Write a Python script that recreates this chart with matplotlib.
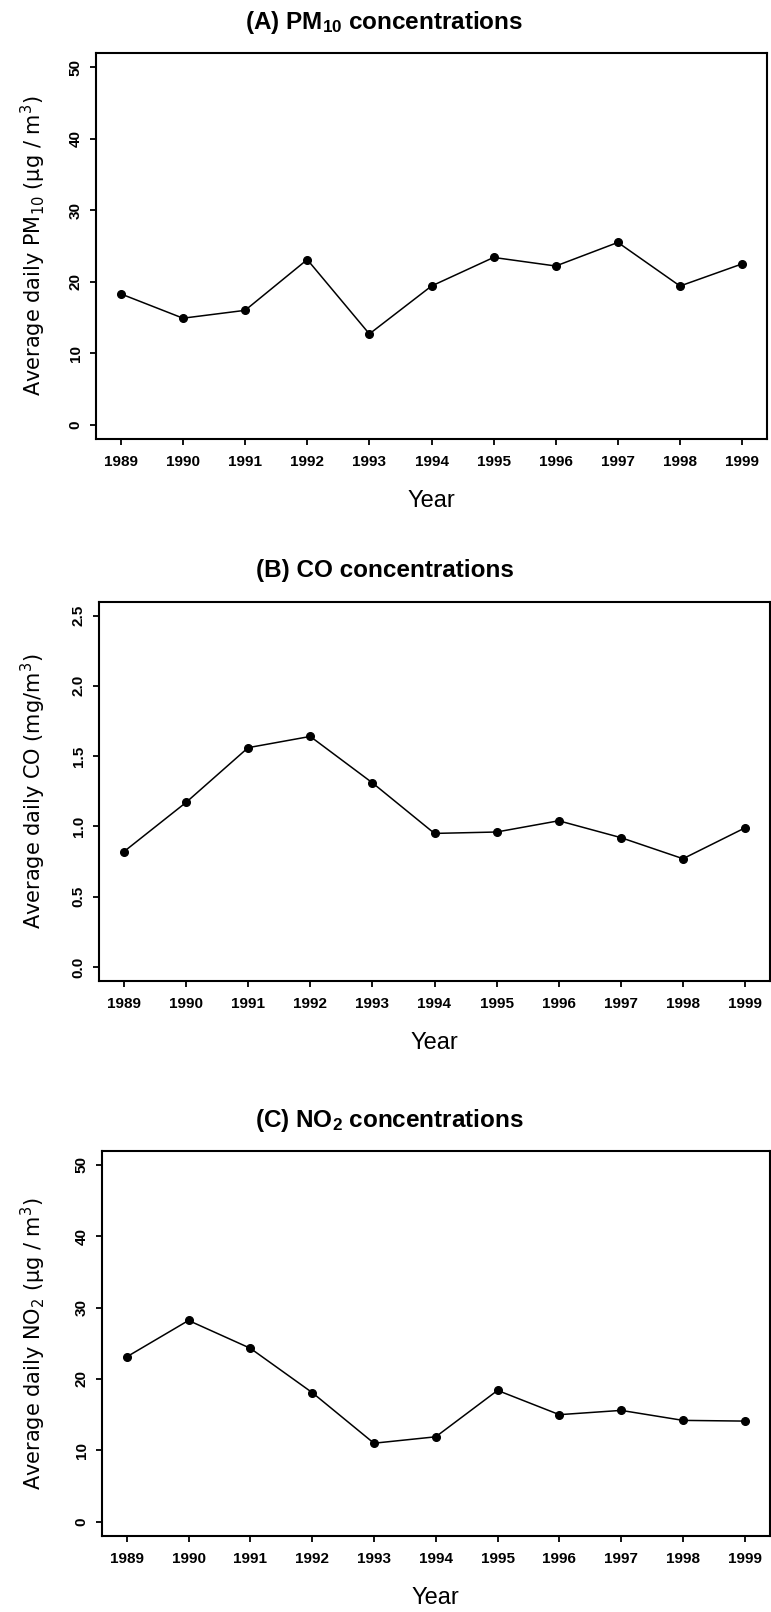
import matplotlib
matplotlib.use("Agg")
import matplotlib.pyplot as plt

# ---- data ----
years = [1989, 1990, 1991, 1992, 1993, 1994, 1995, 1996, 1997, 1998, 1999]
pm10 = [18.3, 14.9, 16.0, 23.1, 12.7, 19.4, 23.4, 22.2, 25.5, 19.4, 22.5]
co = [0.82, 1.17, 1.56, 1.64, 1.31, 0.95, 0.96, 1.04, 0.92, 0.77, 0.99]
no2 = [23.1, 28.2, 24.3, 18.1, 11.0, 11.9, 18.4, 15.0, 15.6, 14.2, 14.1]

titles = ["(A) PM$_{10}$ concentrations", "(B) CO concentrations", "(C) NO$_2$ concentrations"]
ylabels = ["Average daily PM$_{10}$ (\u00b5g / m$^3$)", "Average daily CO (mg/m$^3$)",
           "Average daily NO$_2$ (\u00b5g / m$^3$)"]
yticks_list = [[0, 10, 20, 30, 40, 50], [0.0, 0.5, 1.0, 1.5, 2.0, 2.5], [0, 10, 20, 30, 40, 50]]
ytick_labels = [["0", "10", "20", "30", "40", "50"], ["0.0", "0.5", "1.0", "1.5", "2.0", "2.5"],
                ["0", "10", "20", "30", "40", "50"]]
ylims = [(-2, 52), (-0.1, 2.6), (-2, 52)]
series = [pm10, co, no2]

plt.rcParams["mathtext.default"] = "regular"
plt.rcParams["font.family"] = ["Liberation Sans", "DejaVu Sans"]

W, H = 771, 1612
fig = plt.figure(figsize=(W / 100, H / 100), dpi=100)

# axes boxes in pixels: left, right, top, bottom
boxes = [(96, 767, 53, 439), (99, 770, 601.5, 981), (102, 769.5, 1150.6, 1536)]
title_x = [384, 385, 389]

for i, (l, r, t, b) in enumerate(boxes):
    ax = fig.add_axes([l / W, 1 - b / H, (r - l) / W, (b - t) / H])
    ax.plot(years, series[i], color="black", lw=1.1, marker="o", ms=5.5, mec="black", mfc="black")
    ax.set_xlim(1988.6, 1999.4)
    ax.set_ylim(*ylims[i])
    ax.set_xticks(years)
    ax.set_xticklabels([str(y) for y in years], fontsize=11, fontweight="bold")
    ax.set_yticks(yticks_list[i])
    ax.set_yticklabels(ytick_labels[i], fontsize=11, fontweight="bold", rotation=90, va="center")
    ax.tick_params(axis="x", direction="out", length=4.5, width=1.3, pad=7)
    ax.tick_params(axis="y", direction="out", length=4.5, width=1.3, pad=5)
    for sp in ax.spines.values():
        sp.set_linewidth(1.5)
    ax.set_ylabel(ylabels[i], fontsize=15, family=["DejaVu Sans"], va="center")
    ax.yaxis.set_label_coords((33 - l) / (r - l), 0.5)
    ax.set_xlabel("Year", fontsize=17, va="center")
    ax.xaxis.set_label_coords(0.5, -62 / (b - t))
    fig.text(title_x[i] / W, 1 - (t - 24) / H, titles[i], fontsize=17.5, fontweight="bold",
             ha="center", va="baseline")

fig.savefig("out.png", dpi=100, facecolor="white")
